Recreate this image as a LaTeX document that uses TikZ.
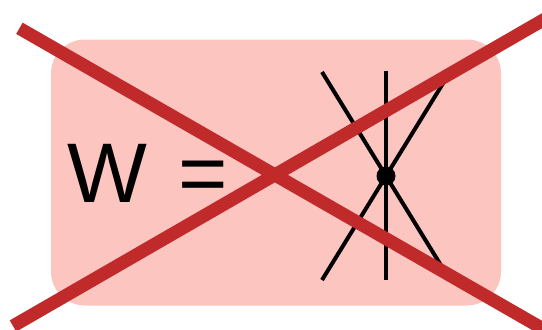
\documentclass[tikz,border=0pt]{standalone}
\usepackage{fontspec}
\setmainfont{Liberation Sans}
\definecolor{boxpink}{RGB}{252,197,192}
\definecolor{crossred}{RGB}{193,42,43}
\tikzset{
  bgbox/.style={fill=boxpink, draw=none, rounded corners=34pt},
  legline/.style={line width=4pt, black},
  vertexdot/.style={circle, fill=black, inner sep=0pt, minimum size=19pt},
  bigtext/.style={inner sep=0pt, font=\fontsize{84.6}{100}\selectfont},
  crossline/.style={line width=13pt, crossred},
}
\begin{document}
\begin{tikzpicture}[x=1pt,y=-1pt]
\useasboundingbox (0,0) rectangle (542,330);
\path[bgbox] (51,39.5) rectangle (501,305.5);
% vertex
\node[vertexdot] (v) at (386,176) {};
\coordinate (a1) at (386,71);
\coordinate (a2) at (386,280);
\coordinate (b1) at (322,72);
\coordinate (b2) at (450,280);
\coordinate (c1) at (450,72);
\coordinate (c2) at (322,280);
\draw[legline] (a1) -- (a2);
\draw[legline] (b1) -- (b2);
\draw[legline] (c1) -- (c2);
% text
\node[bigtext, anchor=base west] (w) at (67.4,202.3) {W};
\node[bigtext, anchor=base west] (eq) at (178,202.3) {=};
% red cross
\coordinate (r1) at (19.4,28.3);
\coordinate (r2) at (550,332.8);
\coordinate (s1) at (13,326);
\coordinate (s2) at (550,16.1);
\draw[crossline] (r1) -- (r2);
\draw[crossline] (s1) -- (s2);
\end{tikzpicture}
\end{document}
